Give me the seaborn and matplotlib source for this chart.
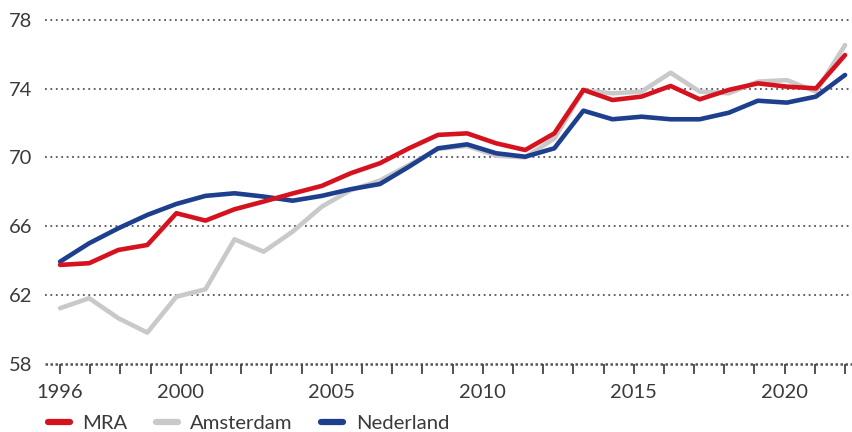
import numpy as np
import pandas as pd
import matplotlib
matplotlib.use("Agg")
import matplotlib.pyplot as plt
import seaborn as sns
from matplotlib.lines import Line2D

# ---- data ----
series_names = ["MRA", "Amsterdam", "Nederland"]
mra = [63.74, 63.84, 64.61, 64.90, 66.75, 66.32, 66.98, 67.43, 67.90, 68.34,
       69.08, 69.66, 70.53, 71.31, 71.40, 70.82, 70.43, 71.40, 73.93, 73.34,
       73.54, 74.16, 73.38, 73.93, 74.31, 74.12, 74.02, 75.96]
amsterdam = [61.22, 61.80, 60.64, 59.80, 61.89, 62.32, 65.23, 64.51, 65.68, 67.13,
             68.10, 68.65, 69.56, 70.50, 70.67, 70.10, 70.00, 71.10, 73.90, 73.73,
             73.83, 74.93, 73.83, 73.73, 74.41, 74.50, 73.83, 76.54]
nederland = [63.93, 65.00, 65.87, 66.65, 67.29, 67.76, 67.91, 67.72, 67.48, 67.76,
             68.15, 68.45, 69.46, 70.53, 70.76, 70.24, 70.04, 70.53, 72.72, 72.22,
             72.37, 72.22, 72.22, 72.60, 73.30, 73.19, 73.54, 74.80]
tick_years = list(range(1996, 2023))
labelled_years = [1996, 2000, 2005, 2010, 2015, 2020]
y_ticks = [58, 62, 66, 70, 74, 78]

colors = {"MRA": "#D6121F", "Amsterdam": "#C9C9C9", "Nederland": "#1D3F8E"}

# positions of the points along the axis (points are spread evenly across the tick span)
xpos = np.linspace(tick_years[0], tick_years[-1], len(mra))

df = pd.concat([
    pd.DataFrame({"x": xpos, "v": amsterdam, "s": "Amsterdam"}),
    pd.DataFrame({"x": xpos, "v": nederland, "s": "Nederland"}),
    pd.DataFrame({"x": xpos, "v": mra, "s": "MRA"}),
], ignore_index=True)

sns.set_theme(style="white")
plt.rcParams["font.family"] = ["Lato", "DejaVu Sans"]

fig = plt.figure(figsize=(8.52, 4.32), dpi=100)
ax = fig.add_axes([45 / 852, 1 - 363.5 / 432, 1 - 45 / 852, (363.5 - 20) / 432])

sns.lineplot(data=df, x="x", y="v", hue="s", hue_order=["Amsterdam", "Nederland", "MRA"],
             palette=colors, linewidth=3.3, ax=ax, legend=False, sort=False)
for ln in ax.get_lines():
    ln.set_clip_on(False)
    ln.set_solid_joinstyle("round")

ax.set_xlim(1995.50, 2022.23)
ax.set_ylim(58, 78)

for s in ["top", "right", "left", "bottom"]:
    ax.spines[s].set_visible(False)

# dotted horizontal gridlines
for yv in y_ticks:
    ax.axhline(yv, color="#555555", lw=1.3 if yv > 58 else 1.8,
               ls=(0, (1, 2)) if yv > 58 else (0, (1, 1)), zorder=0, clip_on=False)

ax.set_yticks(y_ticks)
ax.set_yticklabels([str(t) for t in y_ticks])
ax.set_xticks(tick_years)
ax.set_xticklabels([str(y) if y in labelled_years else "" for y in tick_years])
ax.tick_params(axis="y", length=0, pad=9, labelsize=14.5, labelcolor="#3a3a3a")
ax.tick_params(axis="x", direction="out", length=7, width=1.3, color="#444444",
               pad=8, labelsize=14.5, labelcolor="#3a3a3a", bottom=True)
ax.set_xlabel("")
ax.set_ylabel("")
ax.grid(False)

handles = [Line2D([0], [0], color=colors[n], lw=4.5, solid_capstyle="round") for n in series_names]
fig.legend(handles, series_names, loc="center left", bbox_to_anchor=(0.056, 1 - 423 / 432),
           ncol=3, frameon=False, fontsize=14.6, handlelength=1.1, handletextpad=0.6,
           columnspacing=1.4, labelcolor="#3a3a3a", borderaxespad=0, borderpad=0)

fig.savefig("out.png", dpi=100)
